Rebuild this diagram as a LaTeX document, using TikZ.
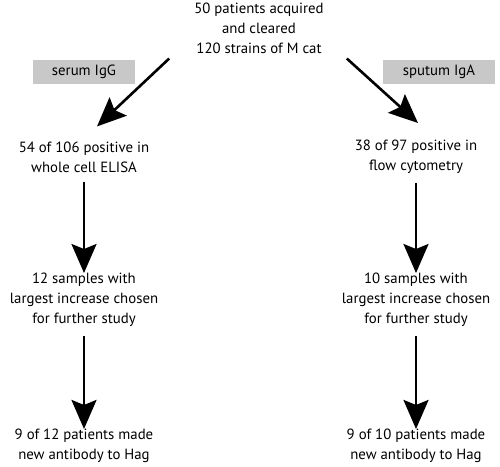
\documentclass[tikz,border=0pt]{standalone}
\usepackage{fontspec}
\setmainfont{PT Sans}
\usetikzlibrary{arrows.meta}
\definecolor{boxgray}{RGB}{200,200,200}
\begin{document}
\begin{tikzpicture}[x=1pt,y=-1pt,
  every node/.style={font=\fontsize{14.8}{20}\selectfont, align=center, inner sep=0pt},
  tag/.style={fill=boxgray, minimum height=24pt},
  bigarrow/.style={line width=2.6pt, -{Stealth[length=29pt,width=25pt,inset=5pt]}}]
\useasboundingbox (0,0) rectangle (500,466);
\node (top) at (259,28) {50 patients acquired\\and cleared\\120 strains of M cat};
\node[tag, minimum width=102pt] (igg) at (84,72) {serum IgG};
\node[tag, minimum width=112pt] (iga) at (439,72) {sputum IgA};
\node (l1) at (84,157) {54 of 106 positive in\\whole cell ELISA};
\node (r1) at (416,157) {38 of 97 positive in\\flow cytometry};
\node (l2) at (84,300) {12 samples with\\largest increase chosen\\for further study};
\node (r2) at (416,300) {10 samples with\\largest increase chosen\\for further study};
\node (l3) at (84,446) {9 of 12 patients made\\new antibody to Hag};
\node (r3) at (416,446) {9 of 10 patients made\\new antibody to Hag};
\draw[bigarrow] ([shift={(-25,5)}]top.south west) -- ([shift={(13,-15)}]l1.north);
\draw[bigarrow] ([shift={(23,5)}]top.south east) -- ([shift={(2,-17)}]r1.north);
\draw[bigarrow] ([yshift=-9]l1.south) -- (l2.north);
\draw[bigarrow] ([yshift=-9]r1.south) -- (r2.north);
\draw[bigarrow] ([yshift=-9]l2.south) -- (l3.north);
\draw[bigarrow] ([yshift=-9]r2.south) -- (r3.north);
\end{tikzpicture}
\end{document}
